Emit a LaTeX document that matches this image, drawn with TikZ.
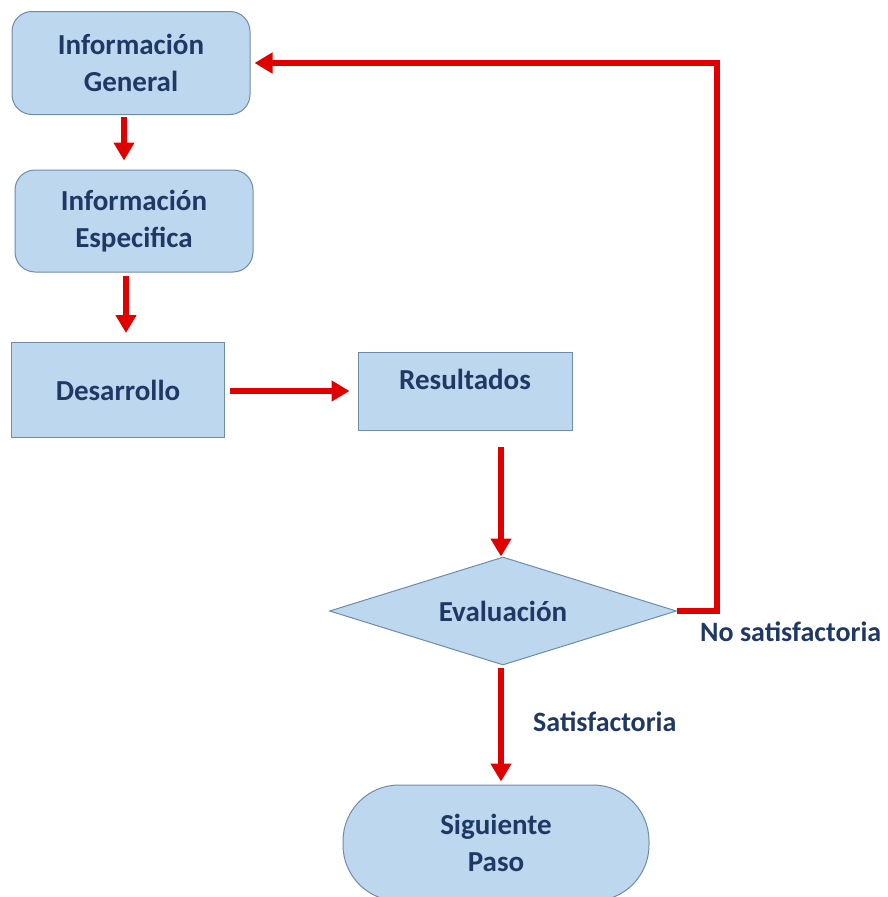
\documentclass[tikz,border=0pt]{standalone}
\usepackage{fontspec}
\setmainfont{Carlito}
\usetikzlibrary{arrows.meta, shapes.geometric, positioning}
\definecolor{boxfill}{HTML}{BDD7EE}
\definecolor{boxline}{HTML}{6F8BAA}
\definecolor{navytext}{HTML}{1F3864}
\definecolor{flowred}{HTML}{E00000}

\begin{document}
\begin{tikzpicture}[x=1pt, y=-1pt,
    box/.style={draw=boxline, line width=1pt, fill=boxfill, text=navytext, align=center,
        font=\fontsize{29}{37}\selectfont\bfseries, inner sep=0pt},
    flow/.style={draw=flowred, line width=5.5pt, -{Triangle[width=20pt,length=18pt]}},
    note/.style={text=navytext, font=\fontsize{28}{34}\selectfont\bfseries, inner sep=0pt}]
    \useasboundingbox (0,0) rectangle (888,897);

    % Boxes
    \node[box, rounded corners=20pt, minimum width=238pt, minimum height=103pt] (gen) at (131,63) {Información\\General};
    \node[box, rounded corners=20pt, minimum width=238pt, minimum height=102pt] (esp) at (134,221) {Información\\Especifica};
    \node[box, minimum width=213pt, minimum height=95pt] (des) at (118,390) {Desarrollo};
    \node[box, minimum width=214pt, minimum height=78pt, text depth=24pt] (res) at (465,391) {Resultados};
    \node[box, diamond, aspect=3.2, minimum width=347pt, minimum height=108pt] (eva) at (503,611) {Evaluación};
    \node[box, rounded corners=56pt, minimum width=306pt, minimum height=116pt] (sig) at (496,843) {Siguiente\\Paso};

    % Connectors
    \draw[flow, shorten <=2pt, shorten >=9pt] (gen.south -| 124,0) -- (esp.north -| 124,0);
    \draw[flow, shorten <=3pt, shorten >=9pt] (esp.south -| 126,0) -- (des.north -| 126,0);
    \draw[flow, shorten <=5pt, shorten >=8pt] (des.east |- 0,391) -- (res.west |- 0,391);
    \draw[flow, shorten <=16pt] (res.south -| 501,0) -- (eva.north -| 501,0);
    \draw[flow, shorten <=2pt, shorten >=3pt] (eva.south -| 501,0) -- (sig.north -| 501,0);
    \draw[flow, shorten >=4pt] (eva.east) -| (717,63) -- (gen.east);

    % Labels
    \node[note, anchor=west] (nosat) at (700,632) {No satisfactoria};
    \node[note, anchor=west] (sat) at (533,722) {Satisfactoria};
\end{tikzpicture}
\end{document}
